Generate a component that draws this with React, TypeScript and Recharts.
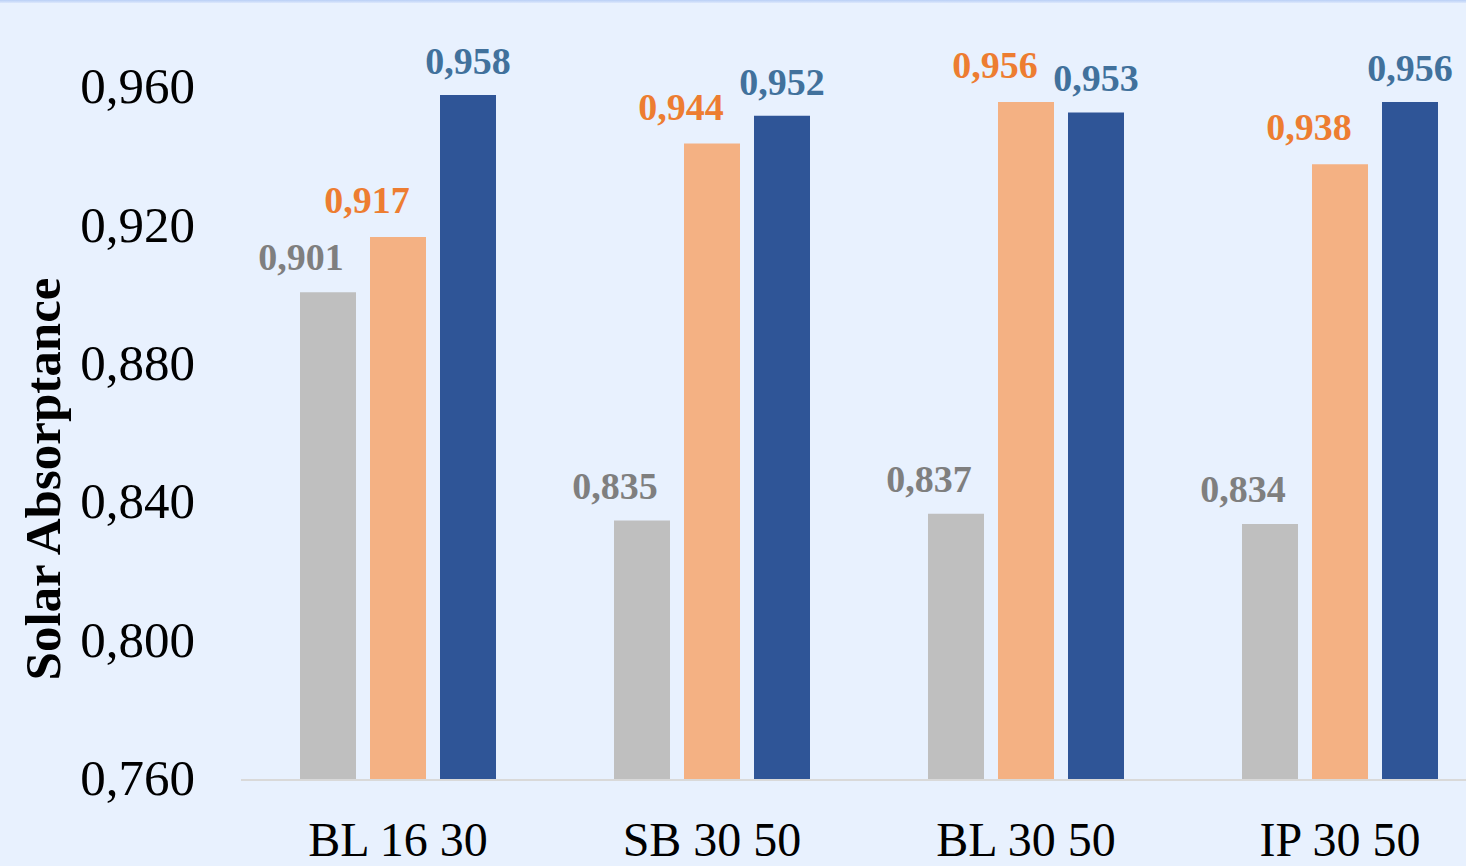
import React from 'react'
import { Bar, BarChart, XAxis, YAxis } from 'recharts'

const categories = ['BL 16 30', 'SB 30 50', 'BL 30 50', 'IP 30 50']
const seriesA = [0.901, 0.835, 0.837, 0.834]
const seriesB = [0.917, 0.944, 0.956, 0.938]
const seriesC = [0.958, 0.952, 0.953, 0.956]
const yTicks = [0.76, 0.8, 0.84, 0.88, 0.92, 0.96]

const data = categories.map((name, i) => ({
  name,
  a: seriesA[i],
  b: seriesB[i],
  c: seriesC[i],
}))

const fmt = (v: number) => v.toFixed(3).replace('.', ',')
const serif = '"Liberation Serif", "Times New Roman", serif'

const makeLabel = (color: string, dx: number, dy: number) => (props: any) => {
  const { x, y, width, value } = props
  return (
    <text
      x={Number(x) + Number(width) / 2 + dx}
      y={Number(y) - dy}
      textAnchor='middle'
      fill={color}
      fontFamily={serif}
      fontWeight='bold'
      fontSize={38}
    >
      {fmt(Number(value))}
    </text>
  )
}

const YTick = (props: any) => {
  const { x, y, payload } = props
  return (
    <text
      x={x}
      y={y + 15}
      textAnchor='end'
      fill='#000'
      fontFamily={serif}
      fontSize={51}
    >
      {fmt(Number(payload.value))}
    </text>
  )
}

const AxisTitle = () => (
  <text
    x={0}
    y={0}
    transform='translate(60, 479) rotate(-90)'
    textAnchor='middle'
    fontFamily={serif}
    fontWeight='bold'
    fontSize={51}
    fill='#000'
  >
    Solar Absorptance
  </text>
)

const App = () => {
  return (
    <div
      style={{
        position: 'fixed',
        top: 0,
        left: 0,
        width: 1466,
        height: 866,
        overflow: 'hidden',
        background: '#E8F1FE',
      }}
    >
      <div style={{ position: 'absolute', top: 0, left: 0 }}>
        <BarChart
          width={1520}
          height={866}
          data={data}
          margin={{ top: 19, right: 23, bottom: 0, left: 0 }}
          barSize={56}
          barGap={14}
        >
          <XAxis
            dataKey='name'
            height={86}
            tickLine={false}
            tickSize={0}
            tickMargin={42}
            axisLine={{ stroke: '#D9D9D9', strokeWidth: 2 }}
            tick={{ fill: '#000', fontFamily: serif, fontSize: 48 }}
          />
          <YAxis
            width={241}
            domain={[0.76, 0.98]}
            ticks={yTicks}
            allowDataOverflow
            tickLine={false}
            tickSize={0}
            tickMargin={46}
            axisLine={false}
            tick={<YTick />}
            label={{ content: () => <AxisTitle /> }}
          />
          <Bar
            dataKey='a'
            fill='#BFBFBF'
            isAnimationActive={false}
            label={makeLabel('#7F7F7F', -27, 22)}
          />
          <Bar
            dataKey='b'
            fill='#F4B183'
            isAnimationActive={false}
            label={makeLabel('#ED7D31', -31, 24)}
          />
          <Bar
            dataKey='c'
            fill='#2F5597'
            isAnimationActive={false}
            label={makeLabel('#41719C', 0, 21)}
          />
        </BarChart>
      </div>
      <div
        style={{
          position: 'absolute',
          top: 0,
          left: 0,
          width: '100%',
          height: 3,
          background: 'linear-gradient(#B9CFF6, #DCE8FC)',
        }}
      />
    </div>
  )
}

export default App
